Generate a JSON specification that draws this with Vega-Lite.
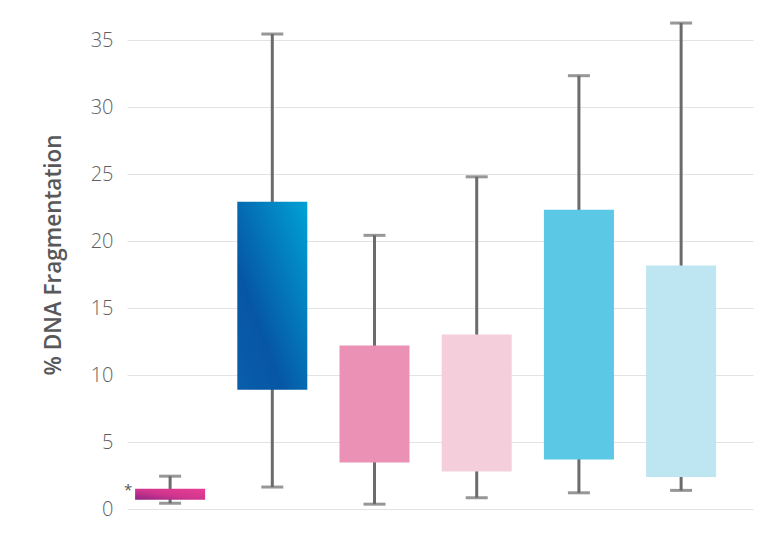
{
  "$schema": "https://vega.github.io/schema/vega-lite/v6.json",
  "autosize": {"type": "none"},
  "padding": {"left": 127, "top": 0, "right": 13, "bottom": 28},
  "width": 626,
  "height": 509,
  "background": "white",
  "config": {"view": {"stroke": null}},
  "data": {"values": [
    {"group": "A", "min": 0.43, "q1": 0.69, "q3": 1.51, "max": 2.45, "note": "*"},
    {"group": "B", "min": 1.64, "q1": 8.9, "q3": 22.93, "max": 35.46, "note": ""},
    {"group": "C", "min": 0.36, "q1": 3.47, "q3": 12.2, "max": 20.43, "note": ""},
    {"group": "D", "min": 0.84, "q1": 2.8, "q3": 13.02, "max": 24.8, "note": ""},
    {"group": "E", "min": 1.21, "q1": 3.7, "q3": 22.35, "max": 32.35, "note": ""},
    {"group": "F", "min": 1.39, "q1": 2.39, "q3": 18.17, "max": 36.28, "note": ""}
  ]},
  "encoding": {
    "x": {
      "field": "group", "type": "nominal", "axis": null,
      "scale": {"domain": ["A", "B", "C", "D", "E", "F"], "paddingInner": 0.315, "paddingOuter": 0.22, "align": 0.18}
    }
  },
  "layer": [
    {
      "mark": {"type": "rule", "color": "#6b6b6d", "strokeWidth": 3},
      "encoding": {
        "y": {
          "field": "min", "type": "quantitative",
          "scale": {"domain": [0, 38], "nice": false, "zero": true},
          "axis": {
            "values": [0, 5, 10, 15, 20, 25, 30, 35],
            "title": "% DNA Fragmentation",
            "titleFont": "Open Sans", "titleFontSize": 22.5, "titleFontWeight": 600, "titleColor": "#58585a",
            "titlePadding": 25,
            "labelFont": "Open Sans", "labelFontSize": 20, "labelFontWeight": 300, "labelColor": "#5f5f61",
            "labelPadding": 14,
            "domain": false, "ticks": false,
            "grid": true, "gridColor": "#e3e3e3", "gridWidth": 1.2
          }
        },
        "y2": {"field": "max"}
      }
    },
    {
      "mark": {"type": "tick", "color": "#6b6b6d", "size": 22, "thickness": 3},
      "encoding": {"y": {"field": "max", "type": "quantitative"}}
    },
    {
      "mark": {"type": "tick", "color": "#6b6b6d", "size": 22, "thickness": 3},
      "encoding": {"y": {"field": "min", "type": "quantitative"}}
    },
    {
      "transform": [{"filter": "datum.group !== 'A' && datum.group !== 'B'"}],
      "mark": {"type": "bar"},
      "encoding": {
        "y": {"field": "q1", "type": "quantitative"},
        "y2": {"field": "q3"},
        "color": {
          "field": "group", "type": "nominal", "legend": null,
          "scale": {"domain": ["C", "D", "E", "F"], "range": ["#ea91b5", "#f5cedc", "#5bc8e6", "#bde5f2"]}
        }
      }
    },
    {
      "transform": [{"filter": "datum.group === 'A'"}],
      "mark": {
        "type": "bar",
        "color": {"gradient": "linear", "x1": 0, "y1": 1, "x2": 1, "y2": 0,
          "stops": [{"offset": 0, "color": "#8e2582"}, {"offset": 0.45, "color": "#cf358e"}, {"offset": 1, "color": "#e83f93"}]}
      },
      "encoding": {
        "y": {"field": "q1", "type": "quantitative"},
        "y2": {"field": "q3"}
      }
    },
    {
      "transform": [{"filter": "datum.group === 'B'"}],
      "mark": {
        "type": "bar",
        "color": {"gradient": "linear", "x1": 1, "y1": 0, "x2": 0, "y2": 1,
          "stops": [{"offset": 0, "color": "#00a2d4"}, {"offset": 0.68, "color": "#0656a4"}, {"offset": 1, "color": "#0a5eab"}]}
      },
      "encoding": {
        "y": {"field": "q1", "type": "quantitative"},
        "y2": {"field": "q3"}
      }
    },
    {
      "transform": [{"filter": "datum.note !== ''"}],
      "mark": {"type": "text", "font": "Open Sans", "fontSize": 15, "color": "#58585a", "dx": -42, "dy": 1, "align": "center", "baseline": "middle"},
      "encoding": {
        "y": {"field": "q3", "type": "quantitative"},
        "text": {"field": "note"}
      }
    }
  ]
}
